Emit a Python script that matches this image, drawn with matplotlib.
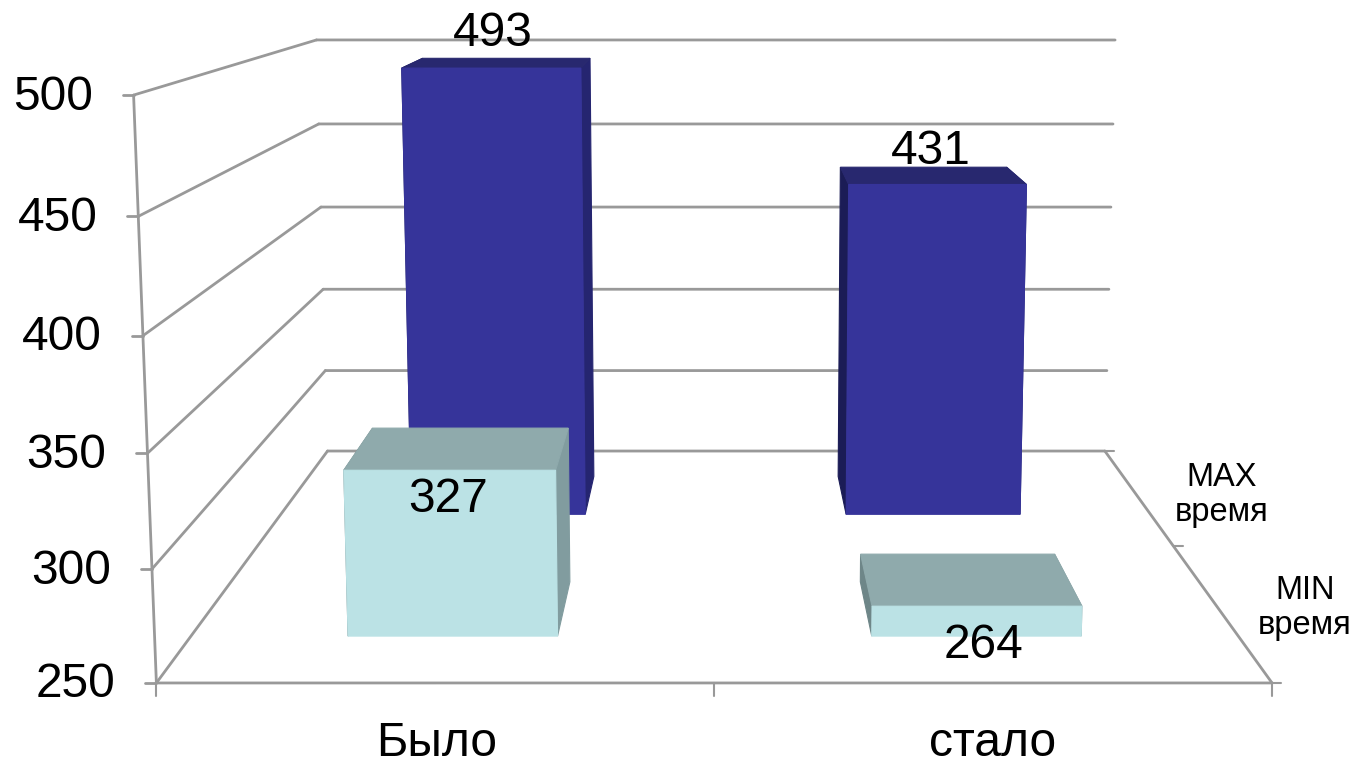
import numpy as np
import matplotlib
matplotlib.use('Agg')
import matplotlib.pyplot as plt
from matplotlib.patches import Polygon

plt.rcParams['font.family'] = ['Liberation Sans', 'DejaVu Sans']

categories = ['Было', 'стало']
series_names = ['MIN\nвремя', 'MAX\nвремя']
min_values = [327, 264]
max_values = [493, 431]
y_ticks = [250, 300, 350, 400, 450, 500]

GRID = '#999999'
BASE = y_ticks[0]

# perspective of the 3d box, fitted from its corners in the picture
# world is (category, series depth, value), image is pixels
corners_world = [(0, 0, 250), (0, 0, 500), (2, 0, 250), (0, 2, 250), (0, 2, 500), (2, 2, 250), (2, 2, 500)]
corners_px = [(157, 683), (133, 95), (1272, 683), (327, 451), (317, 40), (1105, 451), (1115, 40)]

rows = []
for (a, b, c), (u, v) in zip(corners_world, corners_px):
    X = [a, b, c / 100, 1]
    rows.append(X + [0, 0, 0, 0] + [-u * k for k in X])
    rows.append([0, 0, 0, 0] + X + [-v * k for k in X])
P = np.linalg.svd(np.array(rows, dtype=float))[2][-1].reshape(3, 4)


def project(x, d, z):
    h = P @ np.array([x, d, z / 100, 1.0])
    return h[0] / h[2], h[1] / h[2]


def line(p0, p1, lw=2.0):
    ax.plot([p0[0], p1[0]], [p0[1], p1[1]], color=GRID, lw=lw, solid_capstyle='round', zorder=1)


def box(cat, ser, value, front, top, right, left):
    x0, x1 = cat + 0.3, cat + 0.7
    d0, d1 = ser + 0.3, ser + 0.7
    faces = [
        ([(x0, d0, BASE), (x0, d1, BASE), (x0, d1, value), (x0, d0, value)], left),
        ([(x1, d0, BASE), (x1, d1, BASE), (x1, d1, value), (x1, d0, value)], right),
        ([(x0, d0, value), (x1, d0, value), (x1, d1, value), (x0, d1, value)], top),
        ([(x0, d0, BASE), (x1, d0, BASE), (x1, d0, value), (x0, d0, value)], front),
    ]
    for pts, col in faces:
        ax.add_patch(Polygon([project(*p) for p in pts], closed=True, facecolor=col,
                             edgecolor=col, lw=0.8, zorder=3))


fig = plt.figure(figsize=(13.53, 7.6), dpi=100)
ax = fig.add_axes([0, 0, 1, 1])
ax.set_xlim(0, 1353)
ax.set_ylim(760, 0)
ax.axis('off')

# walls and floor
for v in y_ticks:
    line(project(0, 0, v), project(0, 2, v))
    line(project(0, 2, v), project(2, 2, v))
    px = project(0, 0, v)
    line(px, (px[0] - 11, px[1]))
    ax.text(px[0] - 41, px[1] + 2, str(v), ha='right', va='center', fontsize=34.5, color='black')
line(project(0, 0, BASE), project(0, 0, y_ticks[-1]))
line(project(0, 0, BASE), project(2, 0, BASE))
line(project(2, 0, BASE), project(2, 2, BASE))
for i in range(3):
    px = project(i, 0, BASE)
    line(px, (px[0], px[1] + 13), lw=1.5)
    px = project(2, i, BASE)
    line(px, (px[0] + 9, px[1]), lw=1.5)

# back row first, the front row covers it
for i in range(2):
    box(i, 1, max_values[i], '#36349A', '#28286F', '#252570', '#1B1C56')
for i in range(2):
    box(i, 0, min_values[i], '#BBE2E5', '#8FAAAC', '#819C9F', '#6E8688')

for val, xy in zip(max_values + min_values, [(493, 34), (931, 151), (448, 500), (983, 645)]):
    ax.text(xy[0], xy[1], str(val), ha='center', va='center', fontsize=34.5, color='black', zorder=5)

for name, xy in zip(categories, [(437, 744), (993, 744)]):
    ax.text(xy[0], xy[1], name, ha='center', va='center', fontsize=34.5, color='black')
for name, xy in zip(series_names, [(1305, 608), (1222, 495)]):
    ax.text(xy[0], xy[1], name, ha='center', va='center', fontsize=23.5, color='black', linespacing=1.2)

fig.savefig('out.png', dpi=100)
